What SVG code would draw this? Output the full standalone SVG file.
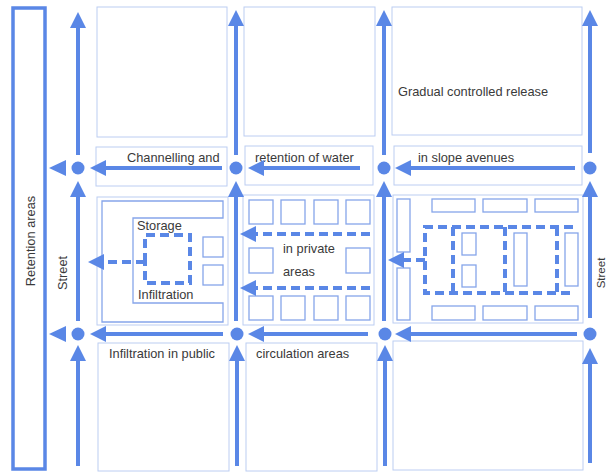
<svg xmlns="http://www.w3.org/2000/svg" width="609" height="472" viewBox="0 0 609 472">
<style>
.bg{fill:#ffffff}
.blk{fill:none;stroke:#bccdf2;stroke-width:1}
.sq{fill:none;stroke:#86a5ea;stroke-width:1.3}
.flow{fill:none;stroke:#5a87e6;stroke-width:4;marker-end:url(#ah)}
.dash{fill:none;stroke:#5a87e6;stroke-width:4;stroke-dasharray:9 5}
.dflow{fill:none;stroke:#5a87e6;stroke-width:4;stroke-dasharray:9 5;marker-end:url(#ah)}
.node{fill:#5a87e6}
.ret{fill:none;stroke:#5a87e6;stroke-width:3.5}
text{font-family:"Liberation Sans",Arial,sans-serif;font-size:12.8px;fill:#3a3a3a}
.edge{font-size:11.5px}
</style>
<defs>
<marker id="ah" markerUnits="userSpaceOnUse" markerWidth="16" markerHeight="16" refX="12" refY="8" orient="auto">
<path d="M0,0 L16,8 L0,16 z" fill="#5a87e6"/>
</marker>
</defs>
<rect class="bg" x="0" y="0" width="609" height="472"/>

<g id="retention">
<rect class="ret" x="13" y="8" width="32" height="461"/>
<text transform="translate(35,241) rotate(-90)" text-anchor="middle">Retention areas</text>
</g>
<g id="street-labels">
<text transform="translate(67,273) rotate(-90)" text-anchor="middle">Street</text>
<text class="edge" transform="translate(605,273) rotate(-90)" text-anchor="middle">Street</text>
</g>

<g id="blocks-top">
<rect class="blk" x="97" y="7" width="130" height="130"/>
<rect class="blk" x="244" y="7" width="131" height="129"/>
<rect class="blk" x="392" y="7" width="190" height="128"/>
<rect class="blk" x="96" y="147" width="131" height="39"/>
<rect class="blk" x="245" y="146" width="128" height="39"/>
<rect class="blk" x="394" y="146" width="188" height="39"/>
</g>

<g id="block-storage">
<rect class="blk" x="97" y="197" width="131" height="128"/>
<path class="sq" d="M102,201 H223 V218 H133 V303 H223 V322 H102 Z"/>
<rect class="sq" x="203" y="237" width="20" height="20"/>
<rect class="sq" x="203" y="265" width="20" height="20"/>
<path class="dash" d="M145,262 V235 H190 V283 H145 V262"/>
<path class="dflow" d="M145,262 H92"/>
<text x="137" y="230">Storage</text>
<text x="138" y="299">Infiltration</text>
</g>

<g id="block-private">
<rect class="blk" x="243" y="195" width="131" height="130"/>
<rect class="sq" x="249" y="200" width="24" height="24"/>
<rect class="sq" x="281" y="200" width="24" height="24"/>
<rect class="sq" x="314" y="200" width="24" height="24"/>
<rect class="sq" x="346" y="200" width="24" height="24"/>
<rect class="sq" x="249" y="248" width="24" height="25"/>
<rect class="sq" x="346" y="248" width="24" height="25"/>
<rect class="sq" x="249" y="296" width="24" height="24"/>
<rect class="sq" x="281" y="296" width="24" height="24"/>
<rect class="sq" x="314" y="296" width="24" height="24"/>
<rect class="sq" x="346" y="296" width="24" height="24"/>
<path class="dflow" d="M370,234 H244"/>
<path class="dflow" d="M370,288 H244"/>
<text x="283" y="253">in private</text>
<text x="283" y="276">areas</text>
</g>

<g id="block-slope">
<rect class="blk" x="393" y="195" width="190" height="128"/>
<rect class="sq" x="397" y="199" width="13" height="53"/>
<rect class="sq" x="397" y="268" width="13" height="52"/>
<rect class="sq" x="432" y="199" width="43" height="13"/>
<rect class="sq" x="483" y="199" width="44" height="13"/>
<rect class="sq" x="535" y="199" width="43" height="13"/>
<rect class="sq" x="432" y="306" width="43" height="14"/>
<rect class="sq" x="483" y="306" width="44" height="14"/>
<rect class="sq" x="535" y="306" width="43" height="14"/>
<rect class="sq" x="462" y="233" width="14" height="22"/>
<rect class="sq" x="462" y="265" width="14" height="22"/>
<rect class="sq" x="514" y="233" width="13" height="53"/>
<rect class="sq" x="565" y="233" width="13" height="53"/>
<path class="dash" d="M573,227 H425 V293 H573"/>
<path class="dash" d="M453,227 V293 M505,227 V293 M557,227 V293"/>
<path class="dflow" d="M425,260 H392"/>
</g>

<g id="blocks-bottom">
<rect class="blk" x="98" y="343" width="131" height="128"/>
<rect class="blk" x="246" y="343" width="131" height="128"/>
<rect class="blk" x="393" y="341" width="190" height="129"/>
</g>

<g id="labels">
<text x="127" y="162">Channelling and</text>
<text x="255" y="162">retention of water</text>
<text x="418" y="162">in slope avenues</text>
<text x="398" y="96">Gradual controlled release</text>
<text x="109" y="358">Infiltration in public</text>
<text x="256" y="358">circulation areas</text>
</g>

<g id="connectors">
<path class="flow" d="M78,155 V16"/>
<path class="flow" d="M78,321 V185"/>
<path class="flow" d="M78,466 V349"/>
<path class="flow" d="M236,155 V14"/>
<path class="flow" d="M236,321 V185"/>
<path class="flow" d="M237,466 V349"/>
<path class="flow" d="M384,155 V14"/>
<path class="flow" d="M384,321 V185"/>
<path class="flow" d="M385,466 V349"/>
<path class="flow" d="M590,153 V14"/>
<path class="flow" d="M590,318 V185"/>
<path class="flow" d="M590,463 V352"/>
<path class="flow" d="M222,168 H94"/>
<path class="flow" d="M360,168 H252"/>
<path class="flow" d="M575,168 H399"/>
<path class="flow" d="M223,334 H94"/>
<path class="flow" d="M368,334 H252"/>
<path class="flow" d="M577,334 H399"/>
<polygon class="node" points="49,168 66,160 66,176"/>
<polygon class="node" points="49,334 66,326 66,342"/>
<circle class="node" cx="78" cy="168" r="6.5"/>
<circle class="node" cx="236" cy="168" r="6.5"/>
<circle class="node" cx="384" cy="168" r="6.5"/>
<circle class="node" cx="590" cy="168" r="6.5"/>
<circle class="node" cx="78" cy="334" r="6.5"/>
<circle class="node" cx="237" cy="334" r="6.5"/>
<circle class="node" cx="385" cy="334" r="6.5"/>
<circle class="node" cx="590" cy="334" r="6.5"/>
</g>
</svg>
